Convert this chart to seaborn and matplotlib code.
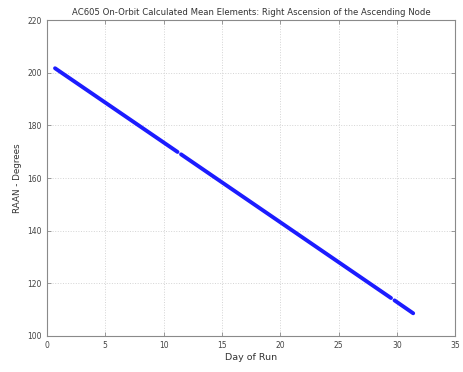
import matplotlib
matplotlib.use("Agg")
import matplotlib.pyplot as plt
import seaborn as sns
import pandas as pd

# Data (segments separated by small gaps)
days = [0.7, 11.2, 11.5, 29.5, 29.8, 31.4]
raan = [201.7, 169.9, 169.0, 114.4, 113.5, 108.6]
segment = [0, 0, 1, 1, 2, 2]

x_ticks = [0, 5, 10, 15, 20, 25, 30, 35]
y_ticks = [100, 120, 140, 160, 180, 200, 220]

title = "AC605 On-Orbit Calculated Mean Elements: Right Ascension of the Ascending Node"
xlabel = "Day of Run"
ylabel = "RAAN - Degrees"

df = pd.DataFrame({"day": days, "raan": raan, "seg": segment})

sns.set_style("white")
plt.rcParams['font.family'] = ['DejaVu Sans']

fig = plt.figure(figsize=(4.64, 3.72), dpi=100)
ax = fig.add_axes([0.101, 0.097, 0.880, 0.849])

sns.lineplot(data=df, x="day", y="raan", units="seg", estimator=None,
             color="#1c1cff", linewidth=2.8, ax=ax)

ax.set_xlim(0, 35)
ax.set_ylim(100, 220)
ax.set_xticks(x_ticks)
ax.set_yticks(y_ticks)
ax.grid(True, linestyle=":", color="#d4d4d4", linewidth=0.7)
for s in ax.spines.values():
    s.set_color("#8a8a8a")
    s.set_linewidth(0.8)
ax.tick_params(direction="in", length=3, width=0.6, colors="#8a8a8a",
               labelsize=5.5, labelcolor="#444444", top=True, right=True,
               bottom=True, left=True)
ax.set_title(title, fontsize=6.1, color="#333333", pad=4)
ax.set_xlabel(xlabel, fontsize=6.8, color="#333333", labelpad=2)
ax.set_ylabel(ylabel, fontsize=6.3, color="#333333", labelpad=4)

fig.savefig("out.png", dpi=100, facecolor="white")
